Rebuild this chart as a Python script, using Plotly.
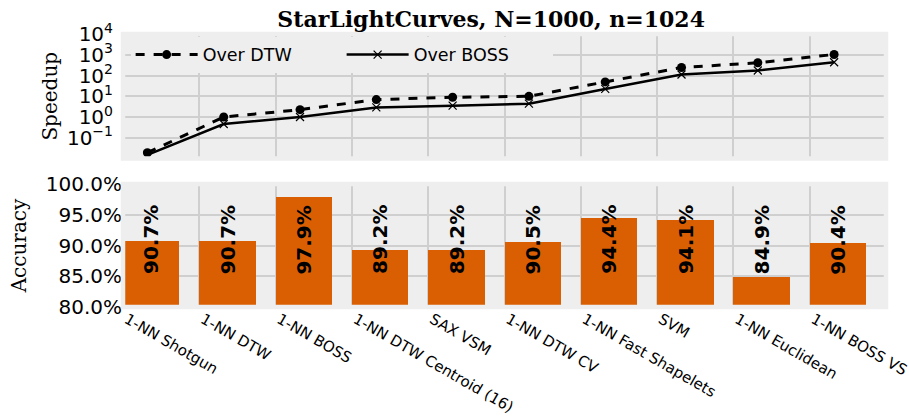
import plotly.graph_objects as go

# Classifiers on StarLightCurves
classifiers = ["1-NN Shotgun", "1-NN DTW", "1-NN BOSS", "1-NN DTW Centroid (16)",
               "SAX VSM", "1-NN DTW CV", "1-NN Fast Shapelets", "SVM",
               "1-NN Euclidean", "1-NN BOSS VS"]

# Speedup of each classifier (log scale)
speedup_over_dtw = [0.019, 1.0, 2.25, 6.9, 8.9, 9.9, 49, 243, 410, 1030]
speedup_over_boss = [0.015, 0.46, 1.0, 2.9, 3.5, 4.4, 22.6, 112, 174, 437]

# Test accuracy in percent
accuracy = [90.7, 90.7, 97.9, 89.2, 89.2, 90.5, 94.4, 94.1, 84.9, 90.4]

speed_ticks = [0.1, 1, 10, 100, 1000, 10000]
speed_ticktext = ["10<sup>\u22121</sup>", "10<sup>0</sup>", "10<sup>1</sup>",
                  "10<sup>2</sup>", "10<sup>3</sup>", "10<sup>4</sup>"]
acc_ticks = [80, 85, 90, 95, 100]
acc_ticktext = [f"{t:.1f}%" for t in acc_ticks]

BG = "#EEEEEE"
GRID = "#CFCFCF"
BAR = "#D95F02"
SANS = "DejaVu Sans"
SERIF = "DejaVu Serif"

idx = list(range(len(classifiers)))
x_line = [i + 0.32 for i in idx]
x_bar = [i + 0.37 for i in idx]

top_dom = [0.544, 1.0]
bot_dom = [0.0, 0.4505]

fig = go.Figure()

fig.add_trace(go.Scatter(
    x=x_line, y=speedup_over_dtw, name="Over DTW", mode="lines+markers",
    line=dict(color="black", width=3, dash="dash"),
    marker=dict(symbol="circle", size=9, color="black"),
    xaxis="x", yaxis="y"))
fig.add_trace(go.Scatter(
    x=x_line, y=speedup_over_boss, name="Over BOSS", mode="lines+markers",
    line=dict(color="black", width=2.5),
    marker=dict(symbol="x-thin", size=8, line=dict(color="black", width=1.2)),
    xaxis="x", yaxis="y"))

fig.add_trace(go.Bar(
    x=x_bar, y=[a - 80 for a in accuracy], base=80, width=0.74,
    marker=dict(color=BAR, line=dict(width=0)),
    showlegend=False, xaxis="x2", yaxis="y2"))

for xb, a in zip(x_bar, accuracy):
    fig.add_annotation(
        x=xb, y=85, xref="x2", yref="y2", text=f"{a:.1f}%",
        textangle=-90, showarrow=False, xanchor="center", yanchor="bottom",
        font=dict(family=SANS, size=20, color="black", weight="bold"))

# Thick background-coloured frame around each panel
for dom in (top_dom, bot_dom):
    fig.add_shape(type="rect", xref="paper", yref="paper",
                  x0=0, x1=1, y0=dom[0], y1=dom[1], layer="above",
                  line=dict(color=BG, width=4.5), fillcolor="rgba(0,0,0,0)")

xcommon = dict(range=[0, 10], tickvals=idx, showgrid=True, gridcolor=GRID,
               gridwidth=1.5, zeroline=False, showline=False, ticks="",
               automargin=False)

fig.update_layout(
    width=909, height=419,
    margin=dict(l=123, r=23, t=34, b=112, autoexpand=False),
    paper_bgcolor="white", plot_bgcolor=BG,
    font=dict(family=SANS, color="black"),
    title=dict(text="<b>StarLightCurves, N=1000, n=1024</b>",
               font=dict(family=SERIF, size=22, color="black"),
               x=0.4825, xref="paper", xanchor="center",
               y=0.955, yref="container", yanchor="middle"),
    xaxis=dict(domain=[0, 1], anchor="y", showticklabels=False, **xcommon),
    yaxis=dict(domain=top_dom, anchor="x", type="log", range=[-2, 4],
               tickvals=speed_ticks, ticktext=speed_ticktext,
               showgrid=True, gridcolor=GRID, gridwidth=1.5, zeroline=False,
               ticks="", ticklabelstandoff=9, automargin=False,
               tickfont=dict(family=SANS, size=20),
               title=dict(text="Speedup", font=dict(family=SERIF, size=20),
                          standoff=3)),
    xaxis2=dict(domain=[0, 1], anchor="y2", ticktext=classifiers,
                tickangle=30, ticklabelshift=4, ticklabeloverflow="allow",
                tickfont=dict(family=SANS, size=15), **xcommon),
    yaxis2=dict(domain=bot_dom, anchor="x2", range=[80, 100],
                tickvals=acc_ticks, ticktext=acc_ticktext,
                showgrid=True, gridcolor=GRID, gridwidth=1.5, zeroline=False,
                ticks="", automargin=False,
                tickfont=dict(family=SANS, size=20),
                title=dict(text="Accuracy", font=dict(family=SERIF, size=20),
                           standoff=13)),
    legend=dict(orientation="h", x=0.01, y=0.99, xanchor="left", yanchor="top",
                bgcolor=BG, font=dict(family=SANS, size=17.5),
                entrywidth=134, entrywidthmode="pixels", itemwidth=62),
    bargap=0,
)

fig.write_html("out.html")
